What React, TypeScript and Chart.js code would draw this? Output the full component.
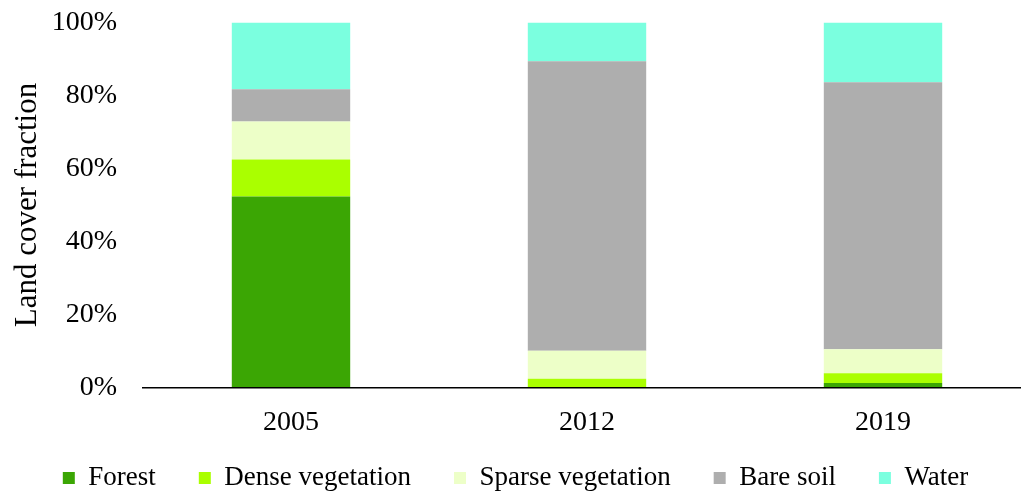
import { useEffect, useRef } from 'react';
import { Chart, registerables } from 'chart.js';

Chart.register(...registerables);

const categories = ['2005', '2012', '2019'];
const seriesNames = ['Forest', 'Dense vegetation', 'Sparse vegetation', 'Bare soil', 'Water'];
const forest = [52.3, 0, 1.2];
const denseVegetation = [10.2, 2.4, 2.7];
const sparseVegetation = [10.4, 7.7, 6.6];
const bareSoil = [8.8, 79.3, 73.1];
const water = [18.3, 10.6, 16.4];
const seriesColors = ['#3BA604', '#AAFF00', '#EDFFC8', '#AEAEAE', '#7BFFDF'];
const yTickValues = [0, 20, 40, 60, 80, 100];

const FONT = "'Liberation Serif', 'Times New Roman', serif";

export default function App() {
  const ref = useRef<HTMLCanvasElement>(null);

  useEffect(() => {
    const values = [forest, denseVegetation, sparseVegetation, bareSoil, water];
    const chart = new Chart(ref.current as HTMLCanvasElement, {
      type: 'bar',
      data: {
        labels: categories,
        datasets: seriesNames.map((name, i) => ({
          label: name,
          data: values[i],
          backgroundColor: seriesColors[i],
          borderWidth: 0,
          categoryPercentage: 1,
          barPercentage: 0.4,
        })),
      },
      options: {
        responsive: false,
        animation: false,
        layout: { padding: { top: 22.5, left: 0, right: 0, bottom: 0 } },
        plugins: {
          tooltip: { enabled: false },
          legend: {
            position: 'bottom',
            maxHeight: 73.5,
            labels: {
              boxWidth: 12,
              boxHeight: 12,
              padding: 43,
              color: '#000',
              font: { family: FONT, size: 27 },
            },
          },
        },
        scales: {
          x: {
            stacked: true,
            grid: { display: false, drawTicks: false },
            border: { display: true, color: '#000', width: 1.5 },
            ticks: { color: '#000', mirror: true, padding: -52, font: { family: FONT, size: 28 } },
            afterFit: (scale: any) => {
              scale.height = 34;
            },
          },
          y: {
            stacked: true,
            min: 0,
            max: 100,
            grid: {
              display: true,
              drawOnChartArea: false,
              drawTicks: true,
              tickLength: 26,
              tickColor: 'rgba(0,0,0,0)',
              color: 'rgba(0,0,0,0)',
            },
            border: { display: false },
            afterBuildTicks: (scale: any) => {
              scale.ticks = yTickValues.map((v) => ({ value: v }));
            },
            ticks: {
              color: '#000',
              padding: 0,
              font: { family: FONT, size: 28 },
              callback: (v: any) => v + '%',
            },
            title: {
              display: true,
              text: 'Land cover fraction',
              color: '#000',
              padding: { top: 9, bottom: 0 },
              font: { family: FONT, size: 31 },
            },
            afterFit: (scale: any) => {
              scale.width = 143;
            },
          },
        },
      },
    });
    return () => chart.destroy();
  }, []);

  return (
    <div
      style={{
        position: 'fixed',
        left: 0,
        top: 0,
        width: 1021,
        height: 495,
        overflow: 'hidden',
        background: '#fff',
      }}
    >
      <canvas ref={ref} width={1031} height={495} style={{ display: 'block' }} />
    </div>
  );
}
